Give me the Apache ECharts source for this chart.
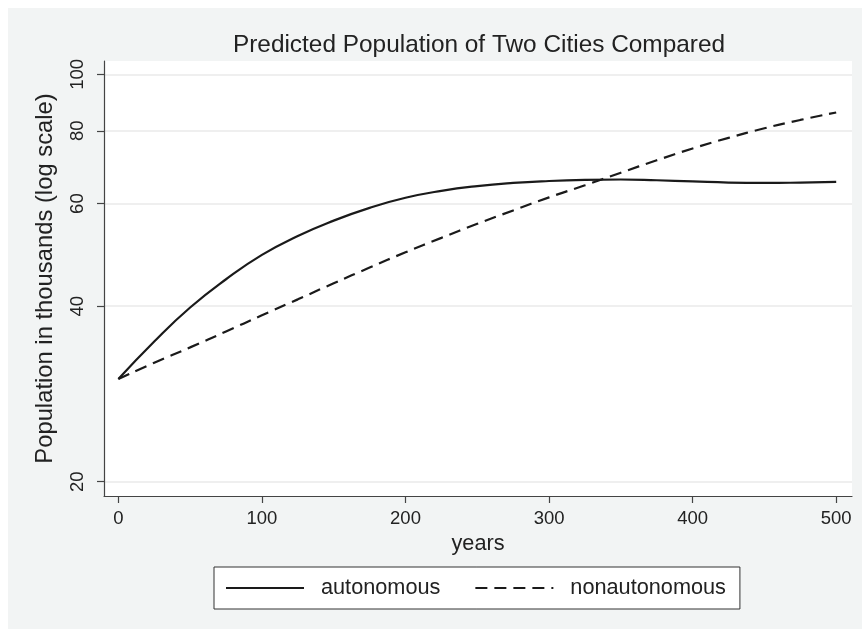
<!DOCTYPE html>
<html>
<head>
<meta charset="utf-8">
<script src="https://cdn.jsdelivr.net/npm/echarts@6/dist/echarts.min.js"></script>
<style>
html,body{margin:0;padding:0;background:#fff;}
#c{width:866px;height:639px;}
</style>
</head>
<body>
<div id="c"></div>
<script>
const years = [0,25,50,75,100,125,150,175,200,225,250,275,300,325,350,375,400,425,450,475,500];
const autonomous = [30.0,34.8,39.8,44.5,49.0,52.8,56.1,59.0,61.4,63.1,64.3,65.1,65.6,65.9,66.0,65.8,65.5,65.2,65.1,65.2,65.4];
const nonautonomous = [30.0,32.0,34.0,36.2,38.6,41.1,43.8,46.6,49.5,52.4,55.4,58.4,61.5,64.5,67.8,71.2,74.6,77.8,80.8,83.5,86.0];
const xTicks = [0,100,200,300,400,500];
const yTicks = [20,40,60,80,100];
const seriesNames = ['autonomous','nonautonomous'];
const titleText = 'Predicted Population of Two Cities Compared';
const xName = 'years';
const yName = 'Population in thousands (log scale)';

const FONT = '"Liberation Sans", Arial, sans-serif';
const chart = echarts.init(document.getElementById('c'), null, {renderer:'canvas'});
const pair = (xs, ys) => xs.map((x,i)=>[x, ys[i]]);
chart.setOption({
  backgroundColor:'#ffffff',
  animation:false,
  graphic:[{type:'rect', z:-100, silent:true, shape:{x:8,y:8,width:854,height:621}, style:{fill:'#f2f4f4'}}],
  title:{text:titleText, left:479, textAlign:'center', top:33, padding:0,
    textStyle:{fontFamily:FONT, fontSize:24.4, fontWeight:'normal', color:'#222'}},
  grid:{left:104, right:14, top:61, bottom:143, show:true, backgroundColor:'#ffffff', borderWidth:0},
  legend:{left:214, top:567, padding:[10,14,10,11], itemGap:34, itemWidth:78, itemHeight:14,
    backgroundColor:'#ffffff', borderColor:'#333', borderWidth:1,
    itemStyle:{opacity:0},
    textStyle:{fontFamily:FONT, fontSize:21.7, color:'#222', padding:[0,0,0,12]},
    data:seriesNames},
  xAxis:{type:'value', min:-10, max:511,
    name:xName, nameLocation:'middle', nameGap:37,
    nameTextStyle:{fontFamily:FONT, fontSize:21.7, color:'#222'},
    axisLine:{show:true, onZero:false, lineStyle:{color:'#444', width:1.2}},
    axisTick:{show:true, length:7, customValues:xTicks, lineStyle:{color:'#444', width:1.2}},
    axisLabel:{customValues:xTicks, margin:13, fontFamily:FONT, fontSize:18.5, color:'#222'},
    splitLine:{show:false}},
  yAxis:{type:'log', logBase:10, min:18.9, max:105.4,
    name:yName, nameLocation:'middle', nameGap:47,
    nameTextStyle:{fontFamily:FONT, fontSize:23.8, color:'#222'},
    axisLine:{show:true, onZero:false, lineStyle:{color:'#444', width:1.2}},
    axisTick:{show:true, length:7, customValues:yTicks, lineStyle:{color:'#444', width:1.2}},
    axisLabel:{customValues:yTicks, rotate:90, margin:17, fontFamily:FONT, fontSize:18.5, color:'#222',
      formatter:v=>String(Math.round(v))},
    splitLine:{show:true, lineStyle:{color:'#eaeaea', width:1.5}}},
  series:[
    {name:seriesNames[0], type:'line', data:pair(years, autonomous), smooth:0.5, symbol:'none',
      lineStyle:{color:'#1a1a1a', width:2.2, type:'solid'}, itemStyle:{color:'#1a1a1a'}},
    {name:seriesNames[1], type:'line', data:pair(years, nonautonomous), smooth:0.5, symbol:'none',
      lineStyle:{color:'#1a1a1a', width:2.2, type:[12,7]}, itemStyle:{color:'#1a1a1a'}}
  ]
});
</script>
</body>
</html>
